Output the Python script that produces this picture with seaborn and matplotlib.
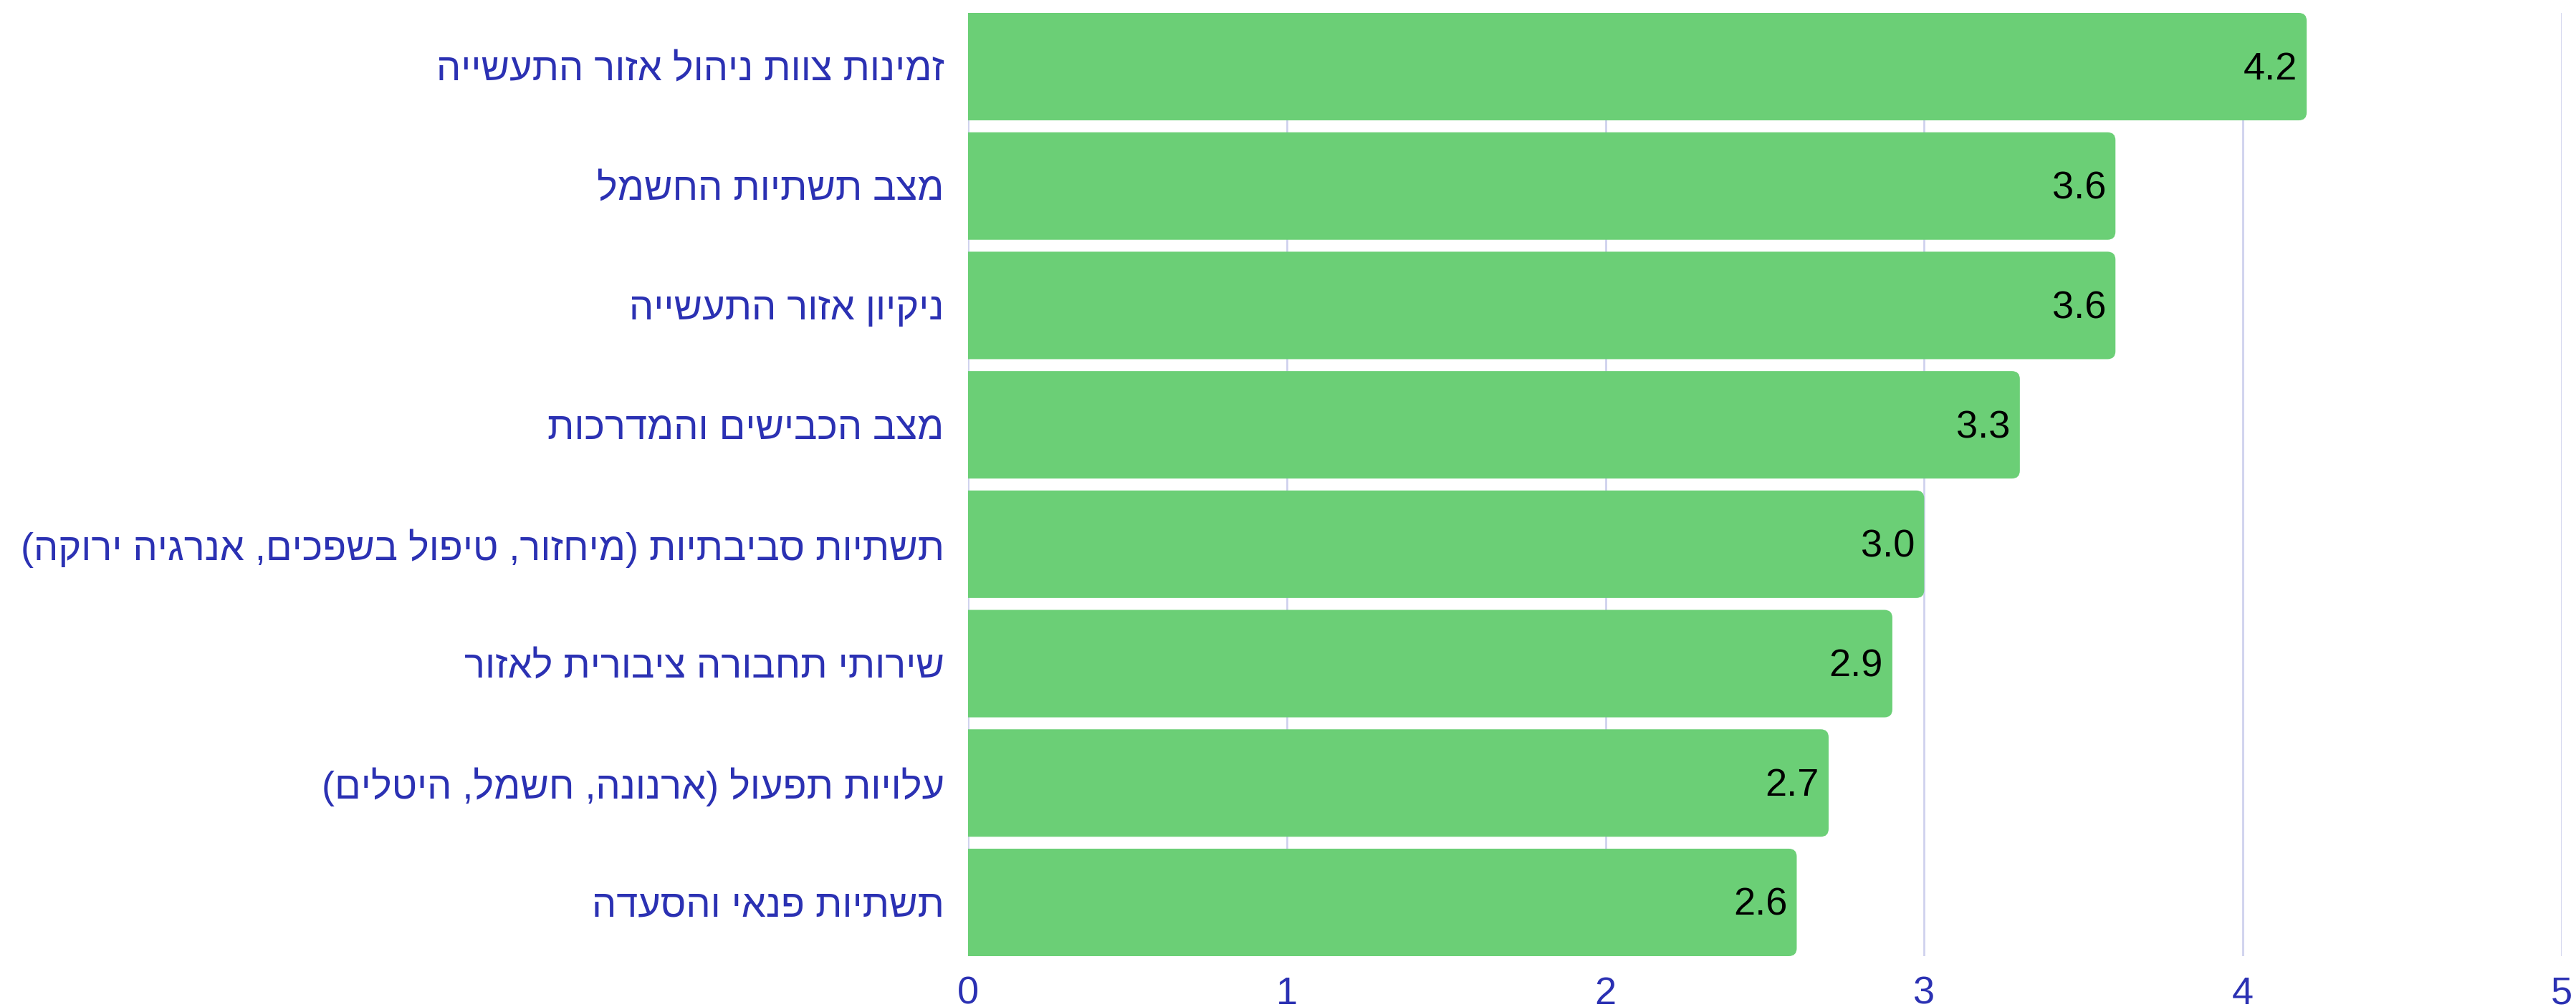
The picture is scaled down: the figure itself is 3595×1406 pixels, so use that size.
import matplotlib
matplotlib.use("Agg")
import matplotlib.pyplot as plt
from matplotlib.patches import FancyBboxPatch
import pandas as pd
import seaborn as sns

# data, top to bottom
categories = [
    "זמינות צוות ניהול אזור התעשייה",
    "מצב תשתיות החשמל",
    "ניקיון אזור התעשייה",
    "מצב הכבישים והמדרכות",
    "תשתיות סביבתיות (מיחזור, טיפול בשפכים, אנרגיה ירוקה)",
    "שירותי תחבורה ציבורית לאזור",
    "עלויות תפעול (ארנונה, חשמל, היטלים)",
    "תשתיות פנאי והסעדה",
]
scores = [4.2, 3.6, 3.6, 3.3, 3.0, 2.9, 2.7, 2.6]
x_ticks = [0, 1, 2, 3, 4, 5]

BAR = "#6bcf76"
BLUE = "#2b31b3"
GRID = "#cfd2ee"


def rtl(s):
    # matplotlib has no bidi support: reverse and mirror brackets
    return s[::-1].translate(str.maketrans("()", ")("))


df = pd.DataFrame({"label": [rtl(c) for c in categories], "score": scores})

sns.set_style("white")
plt.rcParams["font.family"] = ["Liberation Sans", "DejaVu Sans"]

fig = plt.figure(figsize=(35.95, 14.06), dpi=100)
ax = fig.add_axes([1351 / 3595, 71 / 1406, (3575 - 1351) / 3595, (1335 - 18) / 1406])

sns.barplot(data=df, x="score", y="label", orient="h", color=BAR,
            saturation=1, width=0.9, ax=ax)

# rounded ends on the bars
r = 0.025
for p in list(ax.patches):
    x0, y0, w, h = p.get_x(), p.get_y(), p.get_width(), p.get_height()
    p.remove()
    ax.add_patch(FancyBboxPatch((x0 - r, y0), w + r, h,
                                boxstyle=f"round,pad=0,rounding_size={r}",
                                mutation_aspect=2.64, fc=BAR, ec="none",
                                zorder=2))

for v, yi in zip(scores, range(len(scores))):
    ax.annotate(f"{v:.1f}", (v, yi), xytext=(-13, -4), textcoords="offset pixels",
                ha="right", va="center", fontsize=39, color="black", zorder=3)

ax.set_xlim(0, 5)
ax.set_ylim(len(scores) - 0.55, -0.45)
ax.set_xticks(x_ticks)
ax.xaxis.grid(True, color=GRID, lw=2)
ax.yaxis.grid(False)
ax.set_axisbelow(True)
sns.despine(ax=ax, left=True, bottom=True)
ax.tick_params(axis="x", length=0, pad=20, labelsize=39, labelcolor=BLUE)
ax.tick_params(axis="y", length=0, pad=24, labelsize=39, labelcolor=BLUE)
ax.set_xlabel("")
ax.set_ylabel("")

fig.savefig("out.png", dpi=100)
